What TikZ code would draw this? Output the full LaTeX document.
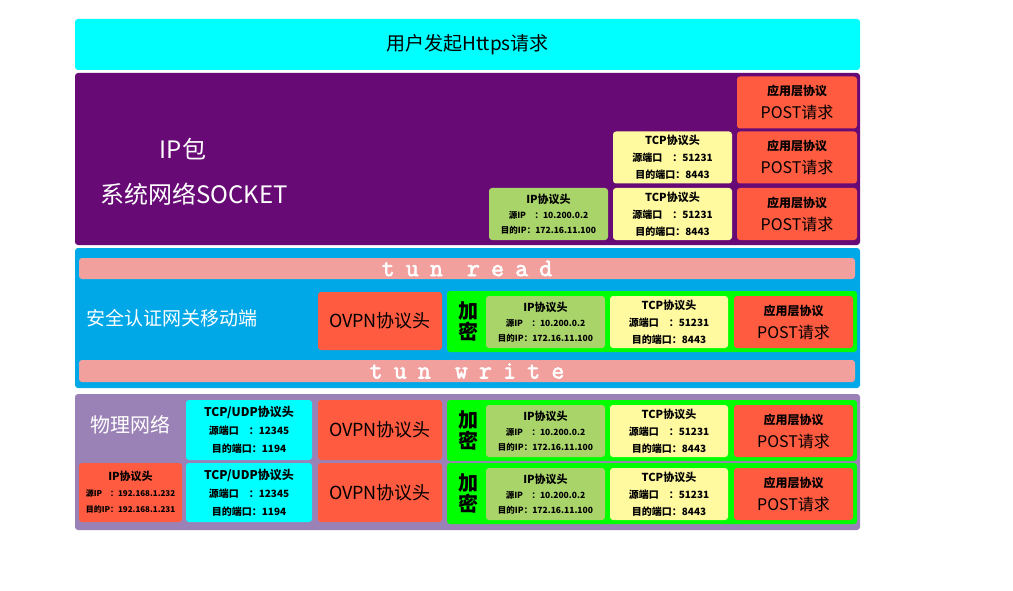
\documentclass[tikz,border=0pt]{standalone}
\usepackage{fontspec}
\setmainfont{Noto Sans CJK SC}
\newfontfamily\tunfont[LetterSpace=45, FakeBold=2.5]{Latin Modern Mono}
\usepackage{tikz}
\usetikzlibrary{positioning}
\usepackage{xcolor}

\definecolor{titlecyan}{HTML}{00FFFF}
\definecolor{sockpurple}{HTML}{680A76}
\definecolor{gateblue}{HTML}{00A8E8}
\definecolor{physmauve}{HTML}{9B82B6}
\definecolor{apptomato}{HTML}{FF5B40}
\definecolor{tcpyellow}{HTML}{FFFAA0}
\definecolor{ipgreen}{HTML}{A9D46A}
\definecolor{encgreen}{HTML}{00FF00}
\definecolor{tunpink}{HTML}{F2A09E}

\begin{document}
\begin{tikzpicture}[x=1pt, y=-1pt,
    layer/.style={rectangle, rounded corners=3pt, inner sep=0pt, minimum width=785pt},
    appbox/.style={rectangle, rounded corners=3pt, fill=apptomato, minimum width=120pt, minimum height=52pt, align=center, inner sep=0pt, font=\bfseries\fontsize{12}{23}\selectfont},
    tcpbox/.style={rectangle, rounded corners=3pt, fill=tcpyellow, minimum width=119pt, minimum height=52pt, align=center, inner sep=0pt, font=\bfseries\fontsize{10}{17}\selectfont},
    ipbox/.style={rectangle, rounded corners=3pt, fill=ipgreen, minimum width=119pt, minimum height=52pt, align=center, inner sep=0pt, font=\bfseries\fontsize{8.5}{15}\selectfont},
    udpbox/.style={rectangle, rounded corners=3pt, fill=titlecyan, minimum width=126pt, minimum height=60pt, align=center, inner sep=0pt, font=\bfseries\fontsize{10}{18}\selectfont},
    ovpnbox/.style={rectangle, rounded corners=3pt, fill=apptomato, minimum width=124pt, minimum height=59pt, inner sep=0pt, font=\fontsize{18}{20}\selectfont},
    encbox/.style={rectangle, rounded corners=3pt, fill=encgreen, minimum width=410pt, minimum height=61pt, inner sep=0pt},
    tunbar/.style={rectangle, rounded corners=3pt, fill=tunpink, minimum width=776pt, minimum height=21pt, inner sep=0pt, text=white, font=\tunfont\fontsize{25}{22}\selectfont},
    whitelabel/.style={text=white, inner sep=0pt},
    enclabel/.style={align=center, inner sep=0pt, font=\bfseries\fontsize{20}{21}\selectfont}]

    \useasboundingbox (0,0) rectangle (1013,591);

    % Title
    \node[layer, fill=titlecyan, minimum height=51pt, font=\fontsize{19}{22}\selectfont] (title) at (467.5,44.5) {用户发起Https请求};

    % Socket layer
    \node[layer, fill=sockpurple, minimum height=172pt] (socket) at (467.5,159) {};
    \node[whitelabel, font=\fontsize{24}{24}\selectfont] (ippkt) at (183,149) {IP包};
    \node[whitelabel, font=\fontsize{24}{24}\selectfont] (sysnet) at (194,194) {系统网络SOCKET};
    \node[appbox] (sapp1) at (797,102.5) {应用层协议\\{\mdseries\fontsize{16}{18}\selectfont POST请求}};
    \node[appbox] (sapp2) at (797,157.5) {应用层协议\\{\mdseries\fontsize{16}{18}\selectfont POST请求}};
    \node[appbox] (sapp3) at (797,214) {应用层协议\\{\mdseries\fontsize{16}{18}\selectfont POST请求}};
    \node[tcpbox] (stcp2) at (672.5,157.5) {{\fontsize{11}{14}\selectfont TCP协议头}\\源端口\quad ：51231\\目的端口：8443};
    \node[tcpbox] (stcp3) at (672.5,214) {{\fontsize{11}{14}\selectfont TCP协议头}\\源端口\quad ：51231\\目的端口：8443};
    \node[ipbox] (sip3) at (548.5,214) {{\fontsize{11}{14}\selectfont IP协议头}\\源IP\quad ：10.200.0.2\\目的IP：172.16.11.100};

    % Gateway layer
    \node[layer, fill=gateblue, minimum height=140pt] (gateway) at (467.5,318) {};
    \node[tunbar] (tunread) at (467,268.5) {tun read};
    \node[tunbar, minimum height=22pt] (tunwrite) at (467,371) {tun write};
    \node[whitelabel, font=\fontsize{19}{20}\selectfont] (gatename) at (172,318) {安全认证网关移动端};
    \node[ovpnbox, minimum height=58pt] (govpn) at (380,321) {OVPN协议头};
    \node[encbox] (genc) at (652,321.5) {};
    \node[enclabel] (gkey) at (468,321.5) {加\\密};
    \node[ipbox] (gip) at (545.5,322) {{\fontsize{11}{14}\selectfont IP协议头}\\源IP\quad ：10.200.0.2\\目的IP：172.16.11.100};
    \node[tcpbox, minimum width=118pt] (gtcp) at (669,322) {{\fontsize{11}{14}\selectfont TCP协议头}\\源端口\quad ：51231\\目的端口：8443};
    \node[appbox, minimum width=119pt] (gapp) at (793.5,322) {应用层协议\\{\mdseries\fontsize{16}{18}\selectfont POST请求}};

    % Physical layer
    \node[layer, fill=physmauve, minimum height=136pt] (phys) at (467.5,462) {};
    \node[whitelabel, font=\fontsize{20}{20}\selectfont] (physname) at (130,425) {物理网络};
    \node[rectangle, rounded corners=3pt, fill=apptomato, minimum width=103pt, minimum height=59pt, align=center, inner sep=0pt, font=\bfseries\fontsize{8}{16}\selectfont] (pip2) at (130.5,492.5) {{\fontsize{11}{14}\selectfont IP协议头}\\源IP\quad ：192.168.1.232\\目的IP：192.168.1.231};
    \node[udpbox] (pudp1) at (249,430) {{\fontsize{12}{14}\selectfont TCP/UDP协议头}\\源端口\quad ：12345\\目的端口：1194};
    \node[udpbox, minimum height=59pt] (pudp2) at (249,492.5) {{\fontsize{12}{14}\selectfont TCP/UDP协议头}\\源端口\quad ：12345\\目的端口：1194};
    \node[ovpnbox, minimum height=60pt] (povpn1) at (380,430) {OVPN协议头};
    \node[ovpnbox] (povpn2) at (380,492.5) {OVPN协议头};
    \node[encbox] (penc1) at (652,430.5) {};
    \node[encbox] (penc2) at (652,493.5) {};
    \node[enclabel] (pkey1) at (468,430.5) {加\\密};
    \node[enclabel] (pkey2) at (468,493.5) {加\\密};
    \node[ipbox] (pip1a) at (545.5,431) {{\fontsize{11}{14}\selectfont IP协议头}\\源IP\quad ：10.200.0.2\\目的IP：172.16.11.100};
    \node[ipbox] (pip2a) at (545.5,494) {{\fontsize{11}{14}\selectfont IP协议头}\\源IP\quad ：10.200.0.2\\目的IP：172.16.11.100};
    \node[tcpbox, minimum width=118pt] (ptcp1) at (669,431) {{\fontsize{11}{14}\selectfont TCP协议头}\\源端口\quad ：51231\\目的端口：8443};
    \node[tcpbox, minimum width=118pt] (ptcp2) at (669,494) {{\fontsize{11}{14}\selectfont TCP协议头}\\源端口\quad ：51231\\目的端口：8443};
    \node[appbox, minimum width=119pt] (papp1) at (793.5,431) {应用层协议\\{\mdseries\fontsize{16}{18}\selectfont POST请求}};
    \node[appbox, minimum width=119pt] (papp2) at (793.5,494) {应用层协议\\{\mdseries\fontsize{16}{18}\selectfont POST请求}};
\end{tikzpicture}
\end{document}
